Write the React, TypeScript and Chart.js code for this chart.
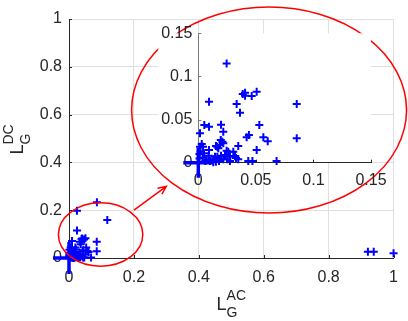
import React, { useEffect, useRef } from 'react';
import { Chart, registerables } from 'chart.js';

Chart.register(...registerables);

// ---------------- data ----------------
const pointsX = [
  0.086, 0.0245, 0.118, 0.921, 0.939, 1.0,
  0.0246, 0.0093, 0.0333, 0.0362, 0.0386, 0.0406, 0.0406, 0.0464, 0.0507, 0.0855,
  0.0855, 0.053, 0.0565, 0.0603, 0.042, 0.044, 0.0347, 0.0507, 0.0434, 0.047,
  0.068, 0.0052, 0.0093, 0.0015, 0.0197, 0.0217, 0.0195, 0.0209, 0.0217, 0.0165,
  0.0189, 0.003, 0.0015, 0.0041, 0.005, 0.0093, 0.0174, 0.0246, 0.026, 0.0304,
  0.0275, 0.0319, 0.0327, 0.0232, 0.0145, 0.0217, 0.0165, 0.013, 0.0102, 0.0073,
  0.018, 0.0275, 0.0252, 0.013, 0.0153, 0.0197, 0.0347, 0.001, 0.001, 0.002,
  0.004, 0.006, 0.009, 0.0154,
];
const pointsY = [
  0.233, 0.198, 0.159, 0.026, 0.026, 0.02,
  0.115, 0.0707, 0.068, 0.058, 0.0797, 0.0811, 0.0777, 0.0773, 0.0823, 0.068,
  0.0283, 0.0437, 0.0294, 0.025, 0.0294, 0.032, 0.0193, 0.0147, 0.002, 0.002,
  0.002, 0.0437, 0.0417, 0.034, 0.044, 0.036, 0.0263, 0.0243, 0.0225, 0.0185,
  0.0205, 0.0217, 0.0185, 0.0185, 0.011, 0.0147, 0.0167, 0.0139, 0.0128, 0.0128,
  0.007, 0.0078, 0.0055, 0.009, 0.007, 0.004, 0.007, 0.004, 0.002, 0.003,
  0.002, 0.002, 0.004, 0.0005, 0.001, 0.008, 0.004, 0.005, 0.01, 0.013,
  0.006, 0.002, 0.008, 0.0193,
];
const originX = [0];
const originY = [0];

const mainTicks = [0, 0.2, 0.4, 0.6, 0.8, 1];
const mainTickLabels = ['0', '0.2', '0.4', '0.6', '0.8', '1'];
const insetTicks = [0, 0.05, 0.1, 0.15];
const insetTickLabels = ['0', '0.05', '0.1', '0.15'];
const insetMax = 0.15;

const xLabelParts = ['L', 'G', 'AC'];
const yLabelParts = ['L', 'G', 'DC'];

// annotations in main-axis data units
const zoomEllipse = { cx: 0.0974, cy: 0.0983, rx: 0.130, ry: 0.1326 };
const insetEllipse = { cx: 0.6165, cy: 0.619, rx: 0.4236, ry: 0.431 };
const arrow = { x1: 0.2, y1: 0.2, x2: 0.3, y2: 0.3 };

// ---------------- layout / styles ----------------
const FONT = '"Liberation Sans", Arial, Helvetica, sans-serif';
const AXIS_COLOR = '#262626';
const INSET_Y_AXIS_COLOR = '#7a7a7a';
const GRID_COLOR = '#dfdfdf';
const BLUE = '#0000ff';
const RED = '#ff0000';

const W = 408;
const H = 321;
const MAIN_AREA = { left: 69, right: 395, top: 19, bottom: 258 };
const INSET_AREA = { left: 198.3, right: 371, top: 33.3, bottom: 162.7 };

function inwardTicks(len: number, xColor: string, yColor: string) {
  return {
    id: 'inwardTicks',
    beforeDatasetsDraw(chart: any) {
      const { ctx, chartArea } = chart;
      const xs = chart.scales.x;
      const ys = chart.scales.y;
      ctx.save();
      ctx.lineWidth = 1;
      ctx.strokeStyle = xColor;
      ctx.beginPath();
      xs.ticks.forEach((t: any) => {
        const p = Math.round(xs.getPixelForValue(t.value)) + 0.5;
        ctx.moveTo(p, chartArea.bottom);
        ctx.lineTo(p, chartArea.bottom - len);
      });
      ctx.stroke();
      ctx.strokeStyle = yColor;
      ctx.beginPath();
      ys.ticks.forEach((t: any) => {
        const p = Math.round(ys.getPixelForValue(t.value)) + 0.5;
        ctx.moveTo(chartArea.left, p);
        ctx.lineTo(chartArea.left + len, p);
      });
      ctx.stroke();
      ctx.restore();
    },
  };
}

function drawSubSup(ctx: CanvasRenderingContext2D, parts: string[], cx: number, baseline: number) {
  const [main, sub, sup] = parts;
  ctx.font = `18px ${FONT}`;
  const wMain = ctx.measureText(main).width;
  ctx.font = `14px ${FONT}`;
  const wSub = ctx.measureText(sub).width;
  const wSup = ctx.measureText(sup).width;
  const total = wMain + Math.max(wSub, wSup);
  const start = cx - total / 2;
  ctx.fillStyle = AXIS_COLOR;
  ctx.textAlign = 'left';
  ctx.textBaseline = 'alphabetic';
  ctx.font = `18px ${FONT}`;
  ctx.fillText(main, start, baseline);
  ctx.font = `14px ${FONT}`;
  ctx.fillText(sub, start + wMain, baseline + 6.5);
  ctx.fillText(sup, start + wMain, baseline - 10);
}

const annotations = {
  id: 'annotations',
  afterDraw(chart: any) {
    const { ctx, chartArea } = chart;
    const xs = chart.scales.x;
    const ys = chart.scales.y;
    const pxPerX = xs.getPixelForValue(1) - xs.getPixelForValue(0);
    const pxPerY = ys.getPixelForValue(0) - ys.getPixelForValue(1);
    ctx.save();
    ctx.strokeStyle = RED;
    ctx.lineWidth = 1.5;
    [zoomEllipse, insetEllipse].forEach((e) => {
      ctx.beginPath();
      ctx.ellipse(
        xs.getPixelForValue(e.cx),
        ys.getPixelForValue(e.cy),
        e.rx * pxPerX,
        e.ry * pxPerY,
        0,
        0,
        Math.PI * 2
      );
      ctx.stroke();
    });
    const ax1 = xs.getPixelForValue(arrow.x1);
    const ay1 = ys.getPixelForValue(arrow.y1);
    const ax2 = xs.getPixelForValue(arrow.x2);
    const ay2 = ys.getPixelForValue(arrow.y2);
    const ang = Math.atan2(ay2 - ay1, ax2 - ax1);
    ctx.beginPath();
    ctx.moveTo(ax1, ay1);
    ctx.lineTo(ax2, ay2);
    const hl = 9;
    const spread = 0.42;
    ctx.moveTo(ax2 - hl * Math.cos(ang - spread), ay2 - hl * Math.sin(ang - spread));
    ctx.lineTo(ax2, ay2);
    ctx.lineTo(ax2 - hl * Math.cos(ang + spread), ay2 - hl * Math.sin(ang + spread));
    ctx.stroke();

    // axis labels
    const cx = (chartArea.left + chartArea.right) / 2;
    drawSubSup(ctx, xLabelParts, cx, 310);
    const cy = (chartArea.top + chartArea.bottom) / 2 + 1;
    ctx.translate(23, cy);
    ctx.rotate(-Math.PI / 2);
    drawSubSup(ctx, yLabelParts, 0, 0);
    ctx.restore();
  },
};

const insetBackground = {
  id: 'insetBackground',
  beforeDraw(chart: any) {
    const { ctx, chartArea } = chart;
    ctx.save();
    ctx.fillStyle = '#ffffff';
    ctx.fillRect(chartArea.left - 40, chartArea.top, chartArea.right - chartArea.left + 40, chartArea.bottom - chartArea.top);
    ctx.restore();
  },
};

function makeScale(ticks: number[], labels: string[], min: number, max: number, opts: any) {
  return {
    type: 'linear',
    min,
    max,
    afterBuildTicks: (scale: any) => {
      scale.ticks = ticks.map((v) => ({ value: v }));
    },
    ticks: {
      callback: (_v: any, i: number) => labels[i],
      font: { size: 16, family: FONT },
      color: AXIS_COLOR,
      padding: opts.padding,
      maxRotation: 0,
      autoSkip: false,
    },
    grid: {
      display: opts.grid,
      color: GRID_COLOR,
      drawTicks: false,
      lineWidth: 1,
    },
    border: { display: true, color: opts.borderColor, width: 1 },
  };
}

// Nudge layout padding so the plot area lands on the wanted rectangle.
function fitArea(chart: any, target: { left: number; right: number; top: number; bottom: number }) {
  for (let k = 0; k < 3; k++) {
    const ca = chart.chartArea;
    const p = chart.options.layout.padding;
    chart.options.layout.padding = {
      left: p.left + (target.left - ca.left),
      right: p.right + (ca.right - target.right),
      top: p.top + (target.top - ca.top),
      bottom: p.bottom + (ca.bottom - target.bottom),
    };
    chart.update();
  }
}

export default function App() {
  const mainRef = useRef<HTMLCanvasElement>(null);
  const insetRef = useRef<HTMLCanvasElement>(null);

  useEffect(() => {
    const allPoints = pointsX.map((x, i) => ({ x, y: pointsY[i] }));
    const originPoints = originX.map((x, i) => ({ x, y: originY[i] }));
    const insetPoints = allPoints.filter((p) => p.x <= insetMax && p.y <= insetMax);

    const main = new Chart(mainRef.current as HTMLCanvasElement, {
      type: 'scatter',
      data: {
        datasets: [
          {
            data: originPoints,
            pointStyle: 'cross',
            pointRadius: 16,
            borderWidth: 3.5,
            borderColor: BLUE,
            backgroundColor: BLUE,
            clip: 30,
          } as any,
          {
            data: allPoints,
            pointStyle: 'cross',
            pointRadius: 4,
            borderWidth: 2,
            borderColor: BLUE,
            backgroundColor: BLUE,
            clip: 10,
          } as any,
        ],
      },
      options: {
        animation: false,
        responsive: false,
        events: [],
        layout: { autoPadding: false, padding: { top: 19, right: 13, left: 0, bottom: 0 } },
        plugins: { legend: { display: false }, tooltip: { enabled: false } },
        scales: {
          x: makeScale(mainTicks, mainTickLabels, 0, 1, {
            padding: 10,
            grid: true,
            borderColor: AXIS_COLOR,
          }),
          y: makeScale(mainTicks, mainTickLabels, 0, 1, {
            padding: 7,
            grid: true,
            borderColor: AXIS_COLOR,
          }),
        } as any,
      } as any,
      plugins: [inwardTicks(3, AXIS_COLOR, AXIS_COLOR), annotations],
    });
    fitArea(main, MAIN_AREA);

    const inset = new Chart(insetRef.current as HTMLCanvasElement, {
      type: 'scatter',
      data: {
        datasets: [
          {
            data: originPoints,
            pointStyle: 'cross',
            pointRadius: 15,
            borderWidth: 3.5,
            borderColor: BLUE,
            backgroundColor: BLUE,
            clip: 30,
          } as any,
          {
            data: insetPoints,
            pointStyle: 'cross',
            pointRadius: 4,
            borderWidth: 2,
            borderColor: BLUE,
            backgroundColor: BLUE,
            clip: 10,
          } as any,
        ],
      },
      options: {
        animation: false,
        responsive: false,
        events: [],
        layout: { autoPadding: false, padding: { top: 33, right: 37, left: 158, bottom: 118 } },
        plugins: { legend: { display: false }, tooltip: { enabled: false } },
        scales: {
          x: makeScale(insetTicks, insetTickLabels, 0, insetMax, {
            padding: 8,
            grid: false,
            borderColor: AXIS_COLOR,
          }),
          y: makeScale(insetTicks, insetTickLabels, 0, insetMax, {
            padding: 6,
            grid: false,
            borderColor: INSET_Y_AXIS_COLOR,
          }),
        } as any,
      } as any,
      plugins: [insetBackground, inwardTicks(3, AXIS_COLOR, INSET_Y_AXIS_COLOR)],
    });
    fitArea(inset, INSET_AREA);

    return () => {
      main.destroy();
      inset.destroy();
    };
  }, []);

  return (
    <div style={{ position: 'fixed', left: 0, top: 0, width: W, height: H, background: '#ffffff' }}>
      <canvas ref={mainRef} width={W} height={H} style={{ position: 'absolute', left: 0, top: 0, width: W, height: H }} />
      <canvas ref={insetRef} width={W} height={H} style={{ position: 'absolute', left: 0, top: 0, width: W, height: H }} />
    </div>
  );
}
